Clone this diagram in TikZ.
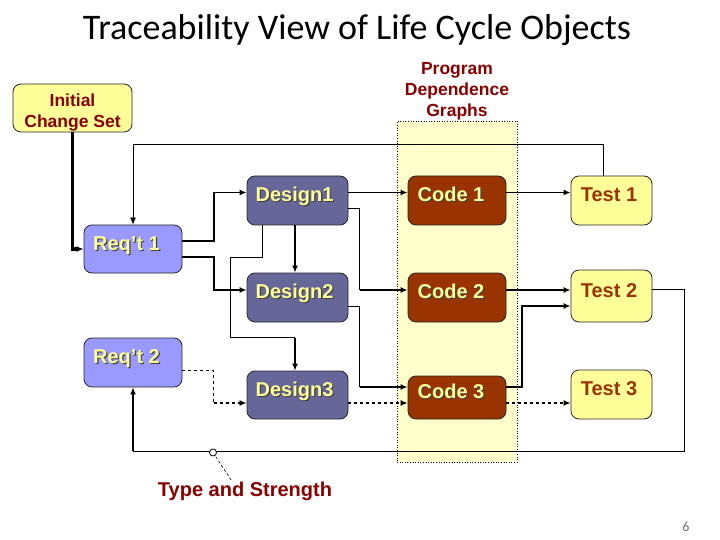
\documentclass[tikz,border=0pt]{standalone}
\usepackage{fontspec}
\setmainfont{Liberation Sans}
\newfontfamily\titlefont{Carlito}
\usetikzlibrary{arrows.meta,calc}
\definecolor{lyel}{HTML}{FFFF99}
\definecolor{pyel}{HTML}{FFFFCC}
\definecolor{reqc}{HTML}{9999FF}
\definecolor{desc}{HTML}{666699}
\definecolor{codc}{HTML}{993300}
\definecolor{dred}{RGB}{136,0,0}
\newcommand\shd[1]{\leavevmode\rlap{\kern1.2pt\raisebox{-1.2pt}{\textcolor{black!75}{#1}}}#1}
\tikzset{
  base box/.style={draw=black!85, line width=0.8pt, rounded corners=8pt, inner sep=0pt,
    text height=2pt, text depth=0pt, font=\bfseries\fontsize{20}{24}\selectfont},
  reqbox/.style={base box, fill=reqc, text=lyel, minimum width=98pt},
  desbox/.style={base box, fill=desc, text=lyel, minimum width=101pt},
  codbox/.style={base box, fill=codc, text=lyel, minimum width=98pt},
  tstbox/.style={base box, fill=lyel, text=codc, minimum width=81pt},
  lbl/.style={font=\bfseries\fontsize{17.5}{21}\selectfont, text=dred, inner sep=0pt, align=center},
  arr/.style={-{Latex[length=7pt,width=6pt]}},
  thk/.style={line width=1.8pt, arr},
  thn/.style={line width=0.8pt},
}
\begin{document}
\begin{tikzpicture}[x=1pt, y=-1pt]
\useasboundingbox (0,0) rectangle (720,540);
% title
\node[font=\titlefont\fontsize{36}{40}\selectfont, anchor=base] (title) at (357,40) {Traceability View of Life Cycle Objects};
% PDG band
\node[draw=black, dotted, fill=pyel, line width=0.6pt, minimum width=120pt, minimum height=341pt, inner sep=0pt] (pdg) at (457,291.5) {};
\node[lbl] (pdgl) at (457,91.5) {Program\\Dependence\\Graphs};
% initial change set
\node[draw=black!85, line width=0.8pt, fill=lyel, rounded corners=8pt, minimum width=119pt, minimum height=48pt] (ics) at (72.5,108) {};
\node[lbl] (icsl) at (72.5,113) {Initial\\Change Set};
% boxes
\node[reqbox, minimum height=48pt] (r1) at (133,249) {\shd{Req’t 1}\kern13pt};
\node[reqbox, minimum height=49pt] (r2) at (133,362.5) {\shd{Req’t 2}\kern13pt};
\node[desbox, minimum height=49pt] (d1) at (297.5,200.5) {\shd{Design1}\kern6pt};
\node[desbox, minimum height=49pt] (d2) at (297.5,297.5) {\shd{Design2}\kern6pt};
\node[desbox, minimum height=48pt] (d3) at (297.5,395) {\shd{Design3}\kern6pt};
\node[codbox, minimum height=49pt] (c1) at (457,200.5) {\shd{Code 1}\kern12pt};
\node[codbox, minimum height=49pt] (c2) at (457,297.5) {\shd{Code 2}\kern12pt};
\node[codbox, minimum height=43pt] (c3) at (457,397.5) {\shd{Code 3}\kern12pt};
\node[tstbox, minimum height=49pt] (t1) at (611.5,200.5) {Test 1\kern5pt};
\node[tstbox, minimum height=52pt] (t2) at (611.5,296) {Test 2\kern5pt};
\node[tstbox, minimum height=49pt] (t3) at (611.5,394.5) {Test 3\kern5pt};
% lanes
\coordinate (ytop) at (0,144);
% connectors
\draw[line width=3.6pt, arr] (ics.south) |- (r1.west);
\draw[thn, arr] ($(t1.north)+(-8.5,0)$) |- (r1.north |- ytop) -- (r1.north);
\draw[thk] ($(r1.east)+(0,-8)$) -| ($(d1.west)+(-33,-8)$) -- ($(d1.west)+(0,-8)$);
\draw[thk] ($(r1.east)+(0,8)$) -| ($(d2.west)+(-33,-7.5)$) -- ($(d2.west)+(0,-7.5)$);
\draw[thk] ($(d1.south)+(-2.5,0)$) -- ($(d2.north)+(-2.5,0)$);
\draw[thn] ($(d1.south)+(-35.5,0)$) -- ++(0,32) -- ++(-32,0) |- ($(d3.north)+(-2.5,-33)$);
\draw[thk] ($(d3.north)+(-2.5,-33)$) -- ($(d3.north)+(-2.5,0)$);
\draw[thk] ($(d1.east)+(0,-8)$) -- ($(c1.west)+(0,-8)$);
\draw[thn] ($(d1.east)+(0,8)$) -| ($(c2.west)+(-48,-7.5)$);
\draw[thk] ($(c2.west)+(-48,-7.5)$) -- ($(c2.west)+(0,-7.5)$);
\draw[thn] ($(d2.east)+(0,8.5)$) -| ($(c3.west)+(-48,-10.5)$);
\draw[thk] ($(c3.west)+(-48,-10.5)$) -- ($(c3.west)+(0,-10.5)$);
\draw[thn, dashed] ($(r2.east)+(0,7.5)$) -| ($(d3.west)+(-33,8)$);
\draw[thk, dashed] ($(d3.west)+(-33,8)$) -- ($(d3.west)+(0,8)$);
\draw[thk, dashed] ($(d3.east)+(0,8)$) -- ($(c3.west)+(0,5.5)$);
\draw[thk] ($(c1.east)+(0,-8)$) -- ($(t1.west)+(0,-8)$);
\draw[thk] ($(c2.east)+(0,-7.5)$) -- ($(t2.west)+(0,-6)$);
\draw[thk] ($(c3.east)+(0,-10.5)$) -| ($(t2.west)+(-49,10)$) -- ($(t2.west)+(0,10)$);
\draw[thk, dashed] ($(c3.east)+(0,5.5)$) -- ($(t3.west)+(0,8.5)$);
\draw[line width=1pt] ($(t2.east)+(0,-7)$) -| ($(t2.east)+(32,155)$) -| ($(r2.south)+(0,64)$);
\draw[thk] ($(r2.south)+(0,64)$) -- (r2.south);
% type and strength
\node[font=\bfseries\fontsize{20}{24}\selectfont, text=dred, anchor=base, inner sep=0pt] (tas) at (245,496) {Type and Strength};
\coordinate (lead) at (213,452.5);
\draw[line width=0.6pt, densely dashed] (lead) -- ($(tas.north)+(-13,0)$);
\draw[line width=0.8pt, fill=white] (lead) circle (3.5pt);
% page number
\node[font=\titlefont\fontsize{14}{16}\selectfont, text=black!55] (pg) at (686,527) {6};
\end{tikzpicture}
\end{document}
